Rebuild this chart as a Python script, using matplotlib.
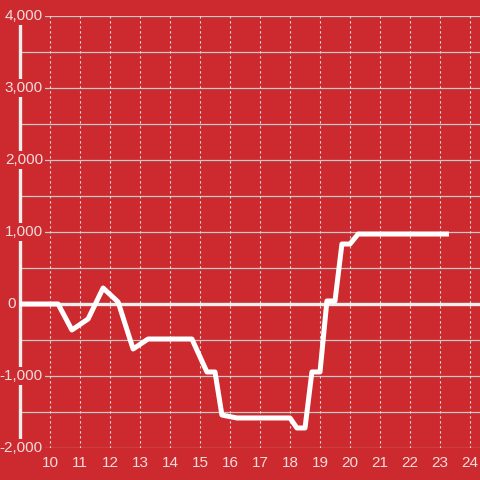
import matplotlib
matplotlib.use('Agg')
import matplotlib.pyplot as plt

BG = '#cc2a2f'
TXT = '#f3dcdc'

hours = [9.0, 10.27, 10.73, 11.27, 11.77, 12.27, 12.77, 13.27, 14.73, 15.23, 15.5,
         15.73, 16.23, 18.0, 18.23, 18.5, 18.73, 19.0, 19.23, 19.5, 19.73, 20.0,
         20.27, 23.3]
values = [0, 0, -361, -208, 222, 28, -625, -486, -486, -944, -944,
          -1542, -1583, -1583, -1722, -1722, -944, -944, 42, 42, 833, 833,
          972, 972]

x_ticks = list(range(10, 25))
y_labels = [-2000, -1000, 0, 1000, 2000, 3000, 4000]
y_grid = [v for v in range(-2000, 4001, 500) if v != 0]

plt.rcParams['font.family'] = ['Liberation Sans', 'DejaVu Sans']

fig = plt.figure(figsize=(4.8, 4.8), dpi=100, facecolor=BG)
ax = fig.add_axes([20 / 480, 1 - 448 / 480, 460 / 480, 432 / 480])
ax.set_facecolor(BG)
ax.set_xlim(9.0, 24.333)
ax.set_ylim(-2000, 4000)

for s in ['top', 'right', 'bottom']:
    ax.spines[s].set_visible(False)
ax.spines['left'].set_color('#eeeeee')
ax.spines['left'].set_linewidth(2.4)
ax.spines['left'].set_zorder(2)

# grid
for v in y_grid:
    ax.axhline(v, color='#c9c9c9', lw=0.9, zorder=1)
ax.axhline(0, color='#eeeeee', lw=2.4, zorder=1.5)
for t in x_ticks:
    ax.axvline(t, color='#e0e0e0', lw=0.8, ls=(0, (2, 2.5)), zorder=1)

ax.plot(hours, values, color='white', lw=3.6, solid_joinstyle='round',
        solid_capstyle='butt', zorder=4)

ax.set_xticks(x_ticks)
ax.set_xticklabels([str(t) for t in x_ticks])
ax.tick_params(axis='x', length=0, pad=6, labelsize=11, labelcolor=TXT)
ax.set_yticks([])

# y labels with red backgrounds covering axis line and gridlines
for v in y_labels:
    xpos = -4 / 460 if v == 0 else 23 / 460
    ax.text(xpos, v, '{:,}'.format(v), transform=ax.get_yaxis_transform(),
            ha='right', va='center', fontsize=11, color=TXT, clip_on=False,
            zorder=5, bbox=dict(boxstyle='square,pad=0.12', fc=BG, ec='none'))

fig.savefig('out.png', dpi=100, facecolor=BG)
